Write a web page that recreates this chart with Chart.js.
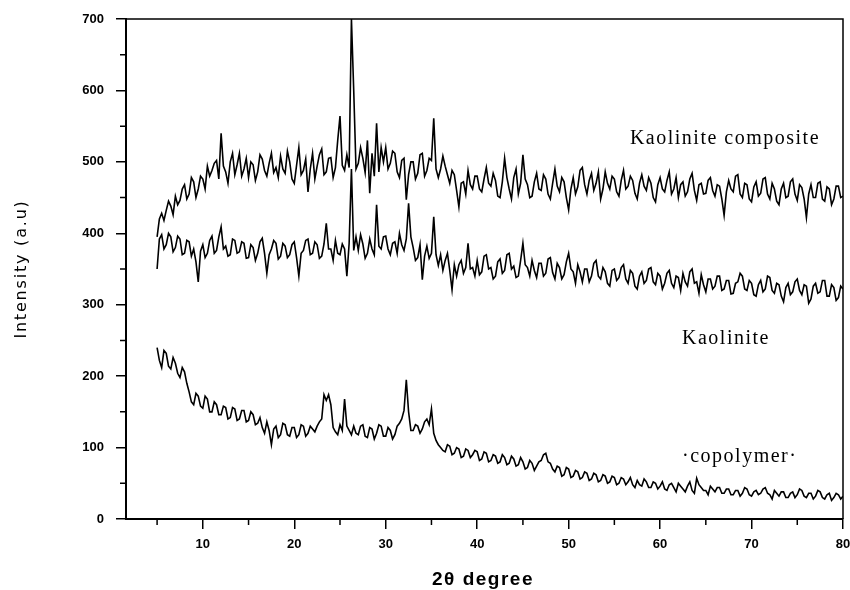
<!DOCTYPE html>
<html>
<head>
<meta charset="utf-8">
<script src="https://cdn.jsdelivr.net/npm/chart.js@4.4.1/dist/chart.umd.min.js"></script>
<style>
  html, body { margin: 0; padding: 0; background: #fff; }
  #wrap { width: 850px; height: 590px; }
</style>
</head>
<body>
<div id="wrap"><canvas id="xrd" width="850" height="590"></canvas></div>
<script>
// 2-theta scan positions (degree)
const twoTheta = [
  5, 5.25, 5.5, 5.75, 6, 6.25, 6.5, 6.75, 7, 7.25, 7.5, 7.75, 8, 8.25, 8.5, 8.75, 9, 9.25, 9.5, 9.75,
  10, 10.25, 10.5, 10.75, 11, 11.25, 11.5, 11.75, 12, 12.25, 12.5, 12.75, 13, 13.25, 13.5, 13.75, 14, 14.25, 14.5, 14.75,
  15, 15.25, 15.5, 15.75, 16, 16.25, 16.5, 16.75, 17, 17.25, 17.5, 17.75, 18, 18.25, 18.5, 18.75, 19, 19.25, 19.5, 19.75,
  20, 20.25, 20.5, 20.75, 21, 21.25, 21.5, 21.75, 22, 22.25, 22.5, 22.75, 23, 23.25, 23.5, 23.75, 24, 24.25, 24.5, 24.75,
  25, 25.25, 25.5, 25.75, 26, 26.25, 26.5, 26.75, 27, 27.25, 27.5, 27.75, 28, 28.25, 28.5, 28.75, 29, 29.25, 29.5, 29.75,
  30, 30.25, 30.5, 30.75, 31, 31.25, 31.5, 31.75, 32, 32.25, 32.5, 32.75, 33, 33.25, 33.5, 33.75, 34, 34.25, 34.5, 34.75,
  35, 35.25, 35.5, 35.75, 36, 36.25, 36.5, 36.75, 37, 37.25, 37.5, 37.75, 38, 38.25, 38.5, 38.75, 39, 39.25, 39.5, 39.75,
  40, 40.25, 40.5, 40.75, 41, 41.25, 41.5, 41.75, 42, 42.25, 42.5, 42.75, 43, 43.25, 43.5, 43.75, 44, 44.25, 44.5, 44.75,
  45, 45.25, 45.5, 45.75, 46, 46.25, 46.5, 46.75, 47, 47.25, 47.5, 47.75, 48, 48.25, 48.5, 48.75, 49, 49.25, 49.5, 49.75,
  50, 50.25, 50.5, 50.75, 51, 51.25, 51.5, 51.75, 52, 52.25, 52.5, 52.75, 53, 53.25, 53.5, 53.75, 54, 54.25, 54.5, 54.75,
  55, 55.25, 55.5, 55.75, 56, 56.25, 56.5, 56.75, 57, 57.25, 57.5, 57.75, 58, 58.25, 58.5, 58.75, 59, 59.25, 59.5, 59.75,
  60, 60.25, 60.5, 60.75, 61, 61.25, 61.5, 61.75, 62, 62.25, 62.5, 62.75, 63, 63.25, 63.5, 63.75, 64, 64.25, 64.5, 64.75,
  65, 65.25, 65.5, 65.75, 66, 66.25, 66.5, 66.75, 67, 67.25, 67.5, 67.75, 68, 68.25, 68.5, 68.75, 69, 69.25, 69.5, 69.75,
  70, 70.25, 70.5, 70.75, 71, 71.25, 71.5, 71.75, 72, 72.25, 72.5, 72.75, 73, 73.25, 73.5, 73.75, 74, 74.25, 74.5, 74.75,
  75, 75.25, 75.5, 75.75, 76, 76.25, 76.5, 76.75, 77, 77.25, 77.5, 77.75, 78, 78.25, 78.5, 78.75, 79, 79.25, 79.5, 79.75,
  80
];

const composite = [
  395, 420, 428, 418, 432, 445, 438, 426, 452, 440, 446, 462, 468, 448, 455, 478, 472, 450, 462, 480,
  476, 462, 494, 480, 488, 498, 502, 476, 540, 494, 486, 470, 500, 512, 482, 496, 512, 480, 490, 505,
  478, 500, 496, 474, 486, 510, 504, 488, 480, 498, 512, 485, 492, 478, 508, 490, 484, 515, 500, 476,
  470, 495, 520, 482, 488, 504, 458, 490, 512, 476, 494, 510, 518, 482, 486, 505, 506, 478, 492, 530,
  564, 495, 488, 510, 492, 700, 600, 490, 498, 520, 505, 485, 530, 456, 512, 480, 554, 486, 520, 500,
  520, 490, 498, 515, 512, 486, 478, 502, 505, 447, 482, 500, 500, 476, 484, 510, 512, 480, 488, 505,
  502, 561, 490, 478, 490, 508, 494, 482, 470, 488, 482, 460, 437, 470, 472, 455, 488, 468, 462, 480,
  480, 462, 458, 476, 492, 470, 466, 484, 474, 452, 450, 472, 505, 478, 462, 448, 478, 490, 455, 470,
  510, 476, 468, 450, 452, 472, 484, 462, 460, 482, 476, 455, 448, 470, 490, 466, 458, 478, 472, 450,
  433, 462, 478, 455, 465, 488, 492, 468, 455, 474, 484, 460, 470, 486, 448, 462, 486, 470, 462, 480,
  476, 458, 452, 474, 488, 462, 466, 480, 474, 456, 448, 470, 482, 466, 460, 478, 470, 450, 444, 468,
  478, 462, 458, 474, 486, 455, 462, 478, 450, 468, 472, 452, 458, 476, 484, 460, 446, 468, 470, 455,
  456, 474, 478, 460, 452, 468, 466, 448, 425, 458, 474, 462, 458, 480, 482, 455, 450, 470, 468, 448,
  444, 465, 472, 452, 456, 476, 478, 455, 448, 470, 462, 445, 440, 462, 470, 450, 452, 472, 476, 455,
  446, 468, 464, 448, 422, 455, 468, 450, 450, 470, 472, 448, 445, 465, 462, 440, 448, 466, 466, 450,
  452
];

const kaolinite = [
  350, 392, 398, 378, 384, 400, 395, 374, 380, 396, 392, 370, 372, 390, 388, 368, 378, 360, 332, 375,
  384, 366, 372, 390, 396, 372, 376, 395, 409, 378, 382, 368, 370, 392, 390, 372, 374, 388, 386, 365,
  366, 384, 380, 362, 372, 388, 393, 372, 344, 370, 378, 390, 386, 364, 368, 386, 382, 366, 370, 384,
  388, 366, 340, 372, 376, 390, 392, 370, 372, 388, 384, 365, 368, 385, 414, 378, 378, 362, 390, 372,
  370, 385, 378, 340, 386, 490, 376, 395, 376, 398, 385, 365, 372, 392, 378, 370, 440, 382, 378, 395,
  396, 378, 370, 386, 388, 372, 400, 384, 376, 392, 442, 395, 380, 362, 366, 384, 335, 368, 382, 365,
  372, 423, 370, 355, 370, 348, 362, 372, 348, 321, 356, 340, 356, 362, 344, 352, 386, 350, 352, 340,
  362, 342, 346, 368, 370, 350, 352, 336, 340, 360, 364, 344, 348, 370, 372, 350, 354, 338, 340, 362,
  386, 356, 352, 340, 362, 348, 338, 358, 358, 340, 344, 364, 366, 345, 336, 358, 352, 336, 342, 360,
  372, 350, 346, 330, 356, 346, 332, 350, 350, 332, 340, 358, 362, 340, 336, 352, 346, 330, 326, 348,
  350, 334, 338, 352, 356, 336, 330, 348, 344, 326, 322, 340, 346, 330, 334, 350, 352, 332, 328, 344,
  340, 322, 330, 344, 348, 330, 324, 340, 338, 320, 344, 332, 326, 346, 350, 330, 332, 316, 342, 328,
  318, 336, 336, 322, 326, 340, 340, 320, 322, 334, 334, 315, 316, 330, 332, 344, 340, 322, 320, 334,
  330, 314, 312, 328, 334, 318, 322, 340, 338, 320, 316, 330, 328, 312, 304, 324, 330, 314, 318, 332,
  336, 320, 314, 328, 326, 302, 308, 326, 330, 316, 318, 334, 334, 312, 312, 328, 324, 306, 310, 326,
  322
];

const copolymer = [
  240, 222, 212, 236, 232, 214, 210, 226, 218, 204, 198, 212, 206, 190, 178, 164, 160, 176, 172, 158,
  155, 172, 168, 150, 150, 164, 160, 146, 146, 158, 156, 140, 142, 156, 154, 138, 140, 152, 152, 136,
  138, 150, 146, 132, 134, 142, 128, 120, 136, 124, 104, 126, 130, 114, 118, 134, 132, 118, 116, 128,
  128, 114, 118, 132, 130, 116, 120, 130, 126, 122, 130, 136, 140, 174, 166, 174, 160, 128, 122, 118,
  132, 124, 168, 130, 124, 118, 130, 120, 118, 130, 132, 116, 114, 128, 126, 112, 120, 132, 130, 116,
  116, 128, 124, 112, 118, 130, 134, 140, 152, 195, 150, 124, 124, 132, 130, 120, 126, 136, 140, 132,
  154, 120, 110, 104, 100, 96, 94, 104, 102, 90, 92, 100, 98, 86, 88, 98, 96, 86, 90, 96,
  94, 82, 84, 94, 92, 80, 82, 90, 88, 78, 80, 90, 86, 76, 78, 88, 84, 74, 76, 86,
  80, 70, 72, 82, 78, 68, 74, 80, 82, 90, 92, 80, 78, 70, 66, 74, 72, 60, 62, 72,
  70, 58, 60, 68, 66, 56, 58, 66, 64, 54, 56, 64, 62, 52, 54, 62, 60, 50, 52, 60,
  58, 48, 50, 58, 56, 48, 52, 58, 48, 44, 54, 48, 46, 56, 52, 44, 44, 52, 50, 42,
  46, 52, 42, 40, 48, 50, 44, 38, 50, 46, 42, 38, 46, 52, 40, 36, 57, 48, 44, 40,
  40, 34, 46, 42, 38, 44, 44, 36, 36, 42, 42, 34, 34, 40, 40, 32, 36, 44, 42, 34,
  32, 38, 40, 34, 36, 42, 44, 36, 34, 28, 40, 36, 32, 38, 38, 30, 30, 36, 38, 30,
  34, 42, 40, 32, 30, 36, 36, 28, 32, 40, 38, 30, 28, 34, 36, 26, 30, 36, 34, 28,
  32
];

const xTicks = [10, 20, 30, 40, 50, 60, 70, 80];
const xMinorTicks = [5, 15, 25, 35, 45, 55, 65, 75];
const yTicks = [0, 100, 200, 300, 400, 500, 600, 700];
const yMinorTicks = [50, 150, 250, 350, 450, 550, 650];

const seriesLabels = [
  { text: 'Kaolinite composite', x: 56.7, y: 533 },
  { text: 'Kaolinite', x: 62.4, y: 253 },
  { text: '\u00b7copolymer\u00b7', x: 62.4, y: 87 }
];

const toPoints = vals => vals.map((v, i) => ({ x: twoTheta[i], y: v }));

const lineStyle = {
  borderColor: '#000',
  borderWidth: 1.6,
  pointRadius: 0,
  fill: false,
  tension: 0
};

// frame, minor ticks, axis titles and curve labels
const decorations = {
  id: 'decorations',
  afterDraw(chart) {
    const { ctx, chartArea: a, scales: { x, y } } = chart;
    ctx.save();
    ctx.strokeStyle = '#000';
    ctx.lineWidth = 1.5;
    ctx.beginPath();
    ctx.moveTo(a.left, a.top);
    ctx.lineTo(a.right, a.top);
    ctx.lineTo(a.right, a.bottom);
    ctx.stroke();

    ctx.beginPath();
    xMinorTicks.forEach(v => {
      const px = x.getPixelForValue(v);
      ctx.moveTo(px, a.bottom);
      ctx.lineTo(px, a.bottom + 6);
    });
    yMinorTicks.forEach(v => {
      const py = y.getPixelForValue(v);
      ctx.moveTo(a.left, py);
      ctx.lineTo(a.left - 6, py);
    });
    ctx.stroke();

    ctx.fillStyle = '#000';
    ctx.textAlign = 'left';
    ctx.textBaseline = 'middle';
    ctx.font = '20px "Liberation Serif"';
    ctx.letterSpacing = '1.5px';
    seriesLabels.forEach(l => {
      ctx.fillText(l.text, x.getPixelForValue(l.x), y.getPixelForValue(l.y));
    });

    ctx.textAlign = 'center';
    ctx.font = 'bold 19px "Liberation Sans"';
    ctx.letterSpacing = '1.5px';
    ctx.fillText('2\u03b8 degree', 483, 580);

    ctx.translate(22, 269);
    ctx.rotate(-Math.PI / 2);
    ctx.font = '16px "DejaVu Sans"';
    ctx.letterSpacing = '1.8px';
    ctx.fillText('Intensity (a.u)', 0, 0);
    ctx.restore();
  }
};

const axisCommon = {
  grid: { drawOnChartArea: false, drawTicks: true, tickLength: 10, color: '#000', lineWidth: 1.5 },
  border: { display: true, color: '#000', width: 2 },
  ticks: {
    color: '#000',
    font: { family: '"Liberation Sans"', size: 13, weight: 'bold' },
    maxRotation: 0,
    autoSkip: false
  }
};

new Chart(document.getElementById('xrd'), {
  type: 'line',
  data: {
    datasets: [
      { label: 'Kaolinite composite', data: toPoints(composite), ...lineStyle },
      { label: 'Kaolinite', data: toPoints(kaolinite), ...lineStyle },
      { label: 'copolymer', data: toPoints(copolymer), ...lineStyle }
    ]
  },
  options: {
    responsive: false,
    animation: false,
    layout: { padding: { top: 19, right: 7, left: 0, bottom: 0 } },
    plugins: { legend: { display: false }, tooltip: { enabled: false } },
    scales: {
      x: {
        type: 'linear',
        min: 1.6,
        max: 80,
        ...axisCommon,
        ticks: { ...axisCommon.ticks, padding: 8 },
        afterBuildTicks: s => { s.ticks = xTicks.map(v => ({ value: v })); },
        afterFit: s => { s.height = 71; s.paddingRight = 0; s.paddingLeft = 0; }
      },
      y: {
        type: 'linear',
        min: 0,
        max: 700,
        ...axisCommon,
        ticks: { ...axisCommon.ticks, padding: 12 },
        afterBuildTicks: s => { s.ticks = yTicks.map(v => ({ value: v })); },
        afterFit: s => { s.width = 126; s.paddingTop = 0; s.paddingBottom = 0; }
      }
    }
  },
  plugins: [decorations]
});
</script>
</body>
</html>
